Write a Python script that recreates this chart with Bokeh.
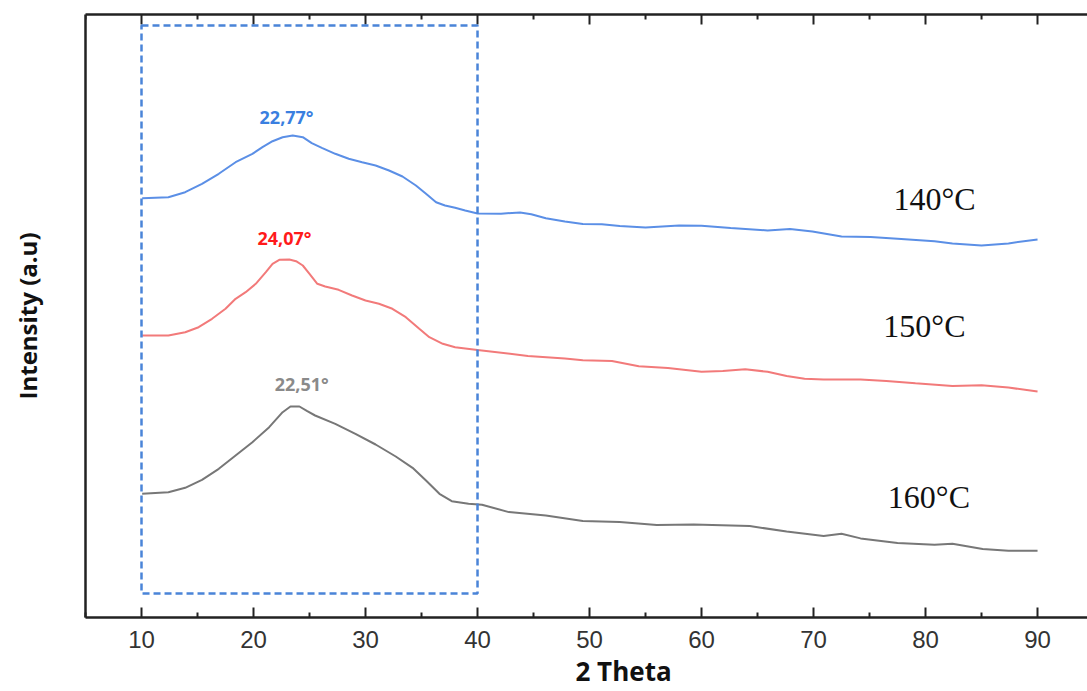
from bokeh.plotting import figure
from bokeh.models import LinearAxis, FixedTicker, Range1d, BoxAnnotation, Label, Title
from bokeh.embed import file_html
from bokeh.resources import INLINE

# ---- data (2 Theta in degrees, intensity in arbitrary units) ----
x_140 = [10.06, 12.4, 13.9, 15.4, 16.9, 18.4, 19.9, 20.8, 21.7, 22.6, 23.5, 24.4, 25.2, 26.1,
         27.3, 28.5, 29.7, 30.9, 32.1, 33.3, 34.5, 35.4, 36.3, 37.1, 38.0, 38.9, 40.0,
         42.1, 43.8, 44.8, 46.1, 47.8, 49.4, 51.1, 52.7, 55.0, 58.0, 60.0, 62.6, 65.9,
         67.9, 69.9, 72.5, 75.1, 77.5, 80.8, 82.4, 85.0, 87.4, 90.0]
y_140 = [419.3, 420.3, 425.3, 433.7, 443.7, 455.3, 463.7, 470.3, 476.3, 480.3, 482, 480.3, 474.3, 469.7,
         463.7, 458.7, 455.3, 452, 447, 441, 432, 423.7, 415.3, 412, 409.7, 407, 404,
         403.8, 405.1, 403.2, 399.3, 396, 393.6, 393.3, 391.6, 390, 392, 391.7, 389.4, 387.1,
         388.4, 386.1, 381.1, 380.5, 378.8, 376.2, 374.1, 372.1, 374.1, 378.1]

x_150 = [10.06, 12.4, 13.9, 15.1, 16.3, 17.5, 18.4, 19.3, 20.2, 21.1, 21.7, 22.3, 23.2, 23.8,
         24.4, 25.0, 25.7, 26.4, 27.6, 28.8, 30.0, 31.2, 32.4, 33.6, 34.8, 35.7, 36.9,
         38.0, 40.0, 44.5, 47.8, 49.4, 52.0, 54.4, 57.0, 60.0, 61.9, 63.9, 65.9, 67.6,
         69.2, 70.9, 74.2, 76.5, 79.1, 82.4, 85.0, 87.4, 90.0]
y_150 = [282, 282, 285.3, 290.3, 298.7, 308.7, 318.7, 325.3, 333.7, 345.3, 353.7, 357.7, 358, 356.3,
         352, 343.7, 333.7, 331, 327.7, 322, 317, 313.7, 308.7, 300.3, 288.7, 280.3, 273.7,
         270.3, 267.5, 261.6, 258.9, 257.3, 256.6, 251.3, 249.6, 245.7, 246.4, 248.3, 245.7, 241.4,
         238.7, 238.1, 238.1, 236.5, 234.2, 231.6, 232.2, 229.9, 226]

x_160 = [10.06, 12.4, 13.9, 15.4, 16.9, 18.4, 19.9, 21.4, 22.6, 23.3, 24.1, 24.8, 25.5, 27.3,
         29.1, 30.9, 32.7, 34.2, 35.4, 36.6, 37.7, 39.2, 40.4, 42.8, 46.1, 49.4, 52.7,
         56.0, 59.3, 64.3, 67.6, 70.9, 72.5, 74.2, 77.5, 80.8, 82.4, 85.1, 87.4, 90.0]
y_160 = [123.7, 125.3, 129.7, 137.7, 148.7, 162, 175.3, 190.3, 205.3, 211, 211, 206.3, 202, 193.7,
         183.7, 173, 161, 149.7, 137, 123.7, 116.3, 113.7, 112.7, 105.4, 101.9, 96.6, 95.6,
         92.4, 93.1, 91.4, 86.1, 81.6, 83.7, 79.1, 74.5, 72.8, 73.8, 68.6, 66.8, 66.8]

series_names = ["140°C", "150°C", "160°C"]
peak_labels = ["22,77°", "24,07°", "22,51°"]
x_major_ticks = [10, 20, 30, 40, 50, 60, 70, 80, 90]
x_minor_ticks = [5, 15, 25, 35, 45, 55, 65, 75, 85]

# annotation anchor positions (data units)
peak_label_x = [22.95, 22.77, 24.3]
peak_label_y = [501, 380, 234]
name_label_x = [80.8, 79.9, 80.3]
name_label_y = [419, 292, 121]
box_x = [10, 40]
box_y = [24, 592]
y_min, y_max = 0, 603

line_colors = ["#5b8fe6", "#f27a7a", "#777777"]
peak_colors = ["#3a7fe0", "#ff1a1a", "#8a8a8a"]
axis_color = "#222222"

p = figure(width=1087, height=691, x_range=Range1d(5, 94.46), y_range=Range1d(y_min, y_max),
           output_backend="svg", toolbar_location=None,
           min_border_left=85, min_border_right=0, min_border_top=14, min_border_bottom=74)
p.grid.visible = False
p.outline_line_color = None
p.background_fill_color = "white"
p.border_fill_color = "white"

# bottom axis
xa = p.xaxis[0]
xa.ticker = FixedTicker(ticks=x_major_ticks, minor_ticks=x_minor_ticks)
xa.axis_line_color = axis_color
xa.axis_line_width = 2.5
xa.major_tick_in = 10
xa.major_tick_out = 0
xa.minor_tick_in = 5
xa.minor_tick_out = 0
xa.major_tick_line_color = axis_color
xa.major_tick_line_width = 2
xa.minor_tick_line_color = axis_color
xa.minor_tick_line_width = 2
xa.major_label_text_font = "Liberation Sans"
xa.major_label_text_font_size = "24px"
xa.major_label_text_color = "#333333"
xa.major_label_standoff = 13

# top axis: line + long ticks (no labels)
top = LinearAxis(ticker=FixedTicker(ticks=[], minor_ticks=x_major_ticks))
top.axis_line_color = axis_color
top.axis_line_width = 2.5
top.minor_tick_in = 10
top.minor_tick_out = 0
top.minor_tick_line_color = axis_color
top.minor_tick_line_width = 2
p.add_layout(top, "above")
# short top ticks
p.segment(x0=x_minor_ticks, x1=x_minor_ticks, y0=[y_max] * len(x_minor_ticks),
          y1=[y_max - 5] * len(x_minor_ticks), line_color=axis_color, line_width=2)

# left axis: line + label only
ya = p.yaxis[0]
ya.ticker = FixedTicker(ticks=[])
ya.axis_line_color = axis_color
ya.axis_line_width = 2.5
ya.major_tick_line_color = None
ya.minor_tick_line_color = None
ya.axis_label = "Intensity (a.u)"
ya.axis_label_text_font = "Open Sans"
ya.axis_label_text_font_style = "bold"
ya.axis_label_text_font_size = "24px"
ya.axis_label_text_color = "#111111"
ya.axis_label_standoff = 42

# x axis title
p.add_layout(Title(text="2 Theta", align="left", offset=490, standoff=1,
                   text_font="Open Sans", text_font_style="bold", text_font_size="26px",
                   text_color="#111111"), "below")

# dashed region box
p.add_layout(BoxAnnotation(left=box_x[0], right=box_x[1], bottom=box_y[0], top=box_y[1],
                           fill_alpha=0, line_color="#4a84d8", line_alpha=1.0, line_width=2.5,
                           line_dash="7 4"))

xs = [x_140, x_150, x_160]
ys = [y_140, y_150, y_160]
for xv, yv, c in zip(xs, ys, line_colors):
    p.line(xv, yv, line_color=c, line_width=2)

for i in range(3):
    p.add_layout(Label(x=peak_label_x[i], y=peak_label_y[i], text=peak_labels[i],
                       text_font="Open Sans", text_font_style="bold", text_font_size="18px",
                       text_color=peak_colors[i], text_align="center", text_baseline="middle"))
    p.add_layout(Label(x=name_label_x[i], y=name_label_y[i], text=series_names[i],
                       text_font="Liberation Serif", text_font_size="32px",
                       text_color="#111111", text_align="center", text_baseline="middle"))

open("out.html", "w").write(file_html(p, INLINE))
